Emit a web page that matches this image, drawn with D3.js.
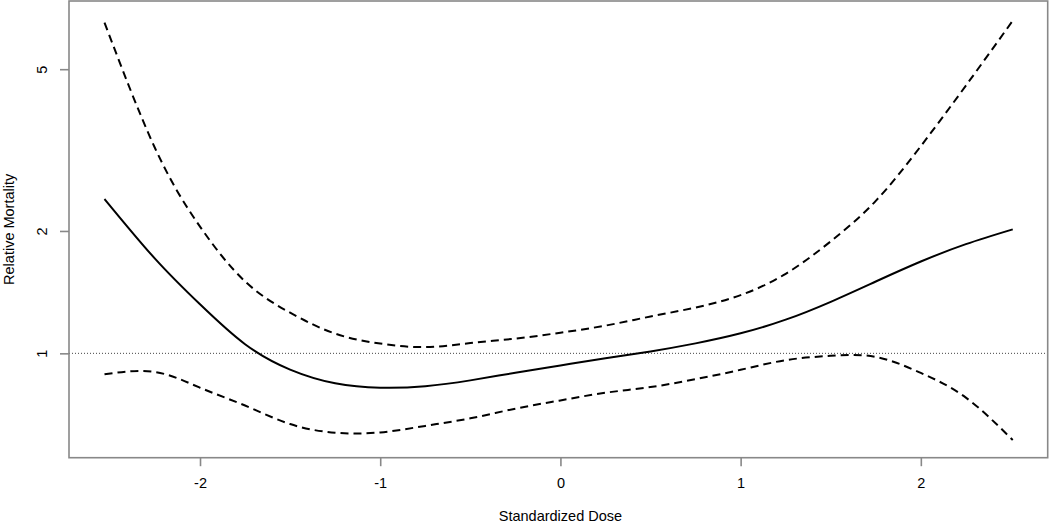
<!DOCTYPE html>
<html>
<head>
<meta charset="utf-8">
<title>Relative Mortality</title>
<script src="https://cdn.jsdelivr.net/npm/d3@7"></script>
<style>
  body { margin: 0; background: #fff; }
  text { font-family: "Liberation Sans", Arial, sans-serif; fill: #000; }
</style>
</head>
<body>
<div id="chart"></div>
<script>
  const width = 1050, height = 526;

  // values (log-scale y)
  const dose = [-2.53, -2.25, -2, -1.75, -1.5, -1.25, -1, -0.75, -0.5, -0.25, 0,
                0.25, 0.5, 0.75, 1, 1.25, 1.5, 1.75, 2, 2.25, 2.51];
  const estimate = [2.397, 1.71, 1.32, 1.053, 0.912, 0.844, 0.823, 0.830, 0.858, 0.896, 0.934,
                    0.973, 1.011, 1.058, 1.120, 1.210, 1.339, 1.502, 1.682, 1.856, 2.018];
  const upper = [6.51, 3.2, 2.05, 1.503, 1.259, 1.118, 1.057, 1.036, 1.060, 1.087, 1.124,
                 1.170, 1.232, 1.296, 1.391, 1.569, 1.886, 2.372, 3.234, 4.556, 6.58];
  const lower = [0.888, 0.900, 0.823, 0.744, 0.670, 0.638, 0.639, 0.663, 0.692, 0.731, 0.766,
                 0.800, 0.826, 0.864, 0.911, 0.962, 0.986, 0.980, 0.895, 0.778, 0.612];
  const xTicks = [-2, -1, 0, 1, 2];
  const yTicks = [1, 2, 5];

  const box = { left: 69, right: 1047.7, top: 1, bottom: 457.7 };

  const x = d3.scaleLinear()
      .domain([-2.727, 2.704])
      .range([box.left, box.right]);

  const y = d3.scaleLog()
      .domain([0.5537, 7.357])
      .range([box.bottom, box.top]);

  const svg = d3.select("#chart")
      .append("svg")
      .attr("width", width)
      .attr("height", height);

  // reference line at 1
  svg.append("line")
      .attr("x1", box.left).attr("x2", box.right)
      .attr("y1", y(1)).attr("y2", y(1))
      .attr("stroke", "#444")
      .attr("stroke-width", 1)
      .attr("stroke-dasharray", "1,2");

  const line = d3.line()
      .x(d => x(d[0]))
      .y(d => y(d[1]))
      .curve(d3.curveNatural);

  const series = [
    { values: upper, dash: "8,5" },
    { values: lower, dash: "8,5" },
    { values: estimate, dash: null }
  ];

  svg.append("g")
      .selectAll("path")
      .data(series)
      .join("path")
      .attr("fill", "none")
      .attr("stroke", "#000")
      .attr("stroke-width", 2)
      .attr("stroke-dasharray", d => d.dash)
      .attr("d", d => line(dose.map((v, i) => [v, d.values[i]])));

  // box
  svg.append("rect")
      .attr("x", box.left).attr("y", box.top)
      .attr("width", box.right - box.left)
      .attr("height", box.bottom - box.top)
      .attr("fill", "none")
      .attr("stroke", "#888")
      .attr("stroke-width", 1.6);

  // x axis
  const xAxis = svg.append("g")
      .attr("transform", `translate(0,${box.bottom})`)
      .call(d3.axisBottom(x).tickValues(xTicks).tickSize(8.5).tickPadding(12).tickFormat(d => String(d)));
  xAxis.select(".domain").remove();
  xAxis.selectAll(".tick line").attr("stroke", "#888").attr("stroke-width", 1.6);
  xAxis.selectAll(".tick text")
      .attr("font-family", "Liberation Sans, Arial, sans-serif")
      .attr("font-size", "14.5px")
      .attr("fill", "#000");

  // y axis
  const yAxis = svg.append("g")
      .attr("transform", `translate(${box.left},0)`)
      .call(d3.axisLeft(y).tickValues(yTicks).tickSize(9).tickFormat(d => String(d)));
  yAxis.select(".domain").remove();
  yAxis.selectAll(".tick line").attr("stroke", "#888").attr("stroke-width", 1.6);
  yAxis.selectAll(".tick text")
      .attr("font-family", "Liberation Sans, Arial, sans-serif")
      .attr("font-size", "14.5px")
      .attr("fill", "#000")
      .attr("x", null)
      .attr("dy", null)
      .attr("text-anchor", "middle")
      .attr("transform", "translate(-22,0) rotate(-90)");

  // axis titles
  svg.append("text")
      .attr("x", x(0))
      .attr("y", 521)
      .attr("text-anchor", "middle")
      .attr("font-size", "14.5px")
      .text("Standardized Dose");

  svg.append("text")
      .attr("transform", `translate(13.5,${(box.top + box.bottom) / 2}) rotate(-90)`)
      .attr("text-anchor", "middle")
      .attr("font-size", "14.5px")
      .text("Relative Mortality");
</script>
</body>
</html>
